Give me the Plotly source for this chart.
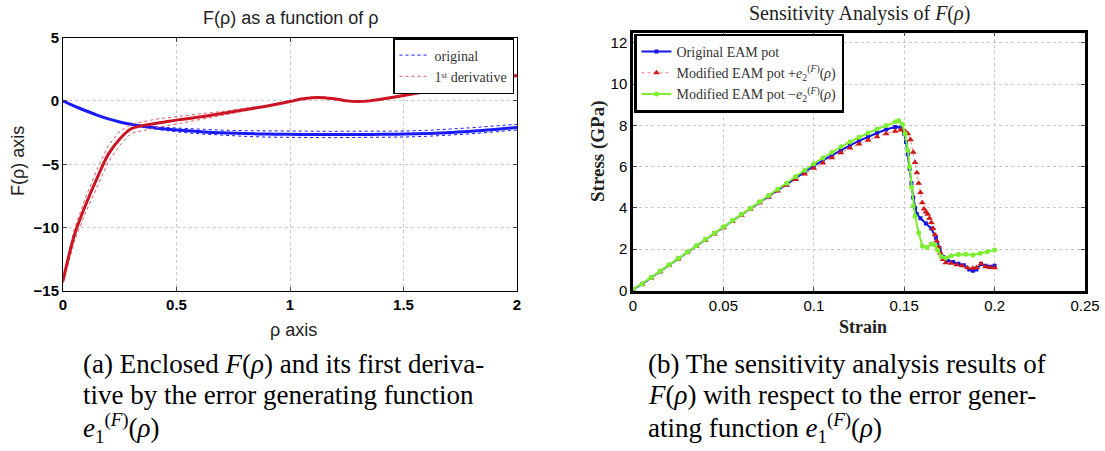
import plotly.graph_objects as go

# ---------------- Left panel data: F(rho) and its first derivative ----------------
rho = [0, 0.05, 0.1, 0.15, 0.2, 0.25, 0.3, 0.35, 0.4, 0.45, 0.5, 0.6, 0.7, 0.8, 0.9,
       1.0, 1.05, 1.1, 1.15, 1.2, 1.25, 1.3, 1.35, 1.4, 1.5, 1.6, 1.7, 1.8, 1.9, 2.0]
F_orig = [0, -0.42, -0.78, -1.12, -1.42, -1.66, -1.85, -2.0, -2.12, -2.22, -2.3, -2.42, -2.52, -2.58, -2.62,
          -2.64, -2.645, -2.65, -2.65, -2.65, -2.65, -2.65, -2.645, -2.64, -2.62, -2.58, -2.5, -2.4, -2.25, -2.1]
F_upper = [0, -0.42, -0.78, -1.12, -1.42, -1.66, -1.83, -1.95, -2.03, -2.1, -2.15, -2.24, -2.31, -2.35, -2.38,
           -2.4, -2.4, -2.4, -2.4, -2.4, -2.4, -2.4, -2.4, -2.4, -2.38, -2.33, -2.25, -2.12, -1.98, -1.85]
F_lower = [0, -0.42, -0.78, -1.12, -1.42, -1.66, -1.88, -2.05, -2.2, -2.33, -2.45, -2.6, -2.72, -2.8, -2.86,
           -2.9, -2.9, -2.9, -2.9, -2.9, -2.9, -2.89, -2.88, -2.87, -2.85, -2.8, -2.72, -2.6, -2.45, -2.3]
dF_orig = [-14.2, -10.6, -8.2, -6.1, -4.2, -3.0, -2.2, -1.95, -1.8, -1.66, -1.52, -1.28, -1.0, -0.7, -0.4,
           -0.05, 0.15, 0.25, 0.25, 0.15, 0.0, -0.05, 0.0, 0.12, 0.42, 0.75, 1.05, 1.35, 1.68, 2.0]
dF_upper = [-14.0, -10.1, -7.6, -5.4, -3.5, -2.4, -1.85, -1.65, -1.47, -1.35, -1.23, -1.03, -0.84, -0.6, -0.35,
            0.0, 0.2, 0.3, 0.3, 0.2, 0.05, 0.0, 0.05, 0.17, 0.47, 0.8, 1.1, 1.4, 1.73, 2.05]
dF_lower = [-14.4, -11.1, -8.8, -6.8, -4.8, -3.5, -2.55, -2.35, -2.15, -1.98, -1.82, -1.5, -1.15, -0.8, -0.45,
            -0.1, 0.1, 0.2, 0.2, 0.1, -0.05, -0.1, -0.05, 0.07, 0.37, 0.7, 1.0, 1.3, 1.63, 1.95]

# ---------------- Right panel data: stress-strain curves ----------------
strain_blue = [0, 0.005, 0.01, 0.015, 0.02, 0.025, 0.03, 0.035, 0.04, 0.045, 0.05, 0.055, 0.06, 0.065,
               0.07, 0.075, 0.08, 0.085, 0.09, 0.095, 0.1, 0.105, 0.11, 0.115, 0.12, 0.125, 0.13, 0.135,
               0.14, 0.145, 0.148, 0.15, 0.151, 0.152, 0.153, 0.154, 0.155, 0.156, 0.157, 0.159, 0.162,
               0.165, 0.1675, 0.1695, 0.1715, 0.174, 0.177, 0.18, 0.183, 0.186, 0.188, 0.19, 0.1925,
               0.195, 0.1975, 0.2]
stress_blue = [0.05, 0.31, 0.62, 0.93, 1.24, 1.55, 1.86, 2.16, 2.46, 2.77, 3.07, 3.37, 3.67, 3.97,
               4.27, 4.56, 4.86, 5.15, 5.45, 5.75, 6.04, 6.3, 6.55, 6.8, 7.03, 7.25, 7.45, 7.63,
               7.8, 7.92, 7.9, 7.6, 7.2, 6.6, 5.9, 5.2, 4.5, 4.0, 3.7, 3.5, 3.25,
               3.0, 2.55, 2.05, 1.62, 1.45, 1.38, 1.3, 1.22, 1.02, 0.96, 1.02, 1.28,
               1.2, 1.15, 1.2]

strain_red = [0, 0.005, 0.01, 0.015, 0.02, 0.025, 0.03, 0.035, 0.04, 0.045, 0.05, 0.055, 0.06, 0.065,
              0.07, 0.075, 0.08, 0.085, 0.09, 0.095, 0.1, 0.105, 0.11, 0.115, 0.12, 0.125, 0.13, 0.135,
              0.14, 0.145, 0.148, 0.1505, 0.152, 0.1535, 0.155, 0.156, 0.157, 0.158, 0.159, 0.16, 0.161,
              0.162, 0.163, 0.164, 0.165, 0.166, 0.167, 0.168, 0.169, 0.17, 0.1715, 0.173, 0.176, 0.179,
              0.182, 0.185, 0.188, 0.19, 0.1925, 0.195, 0.1975, 0.2]
stress_red = [0.03, 0.3, 0.6, 0.91, 1.22, 1.53, 1.84, 2.14, 2.44, 2.74, 3.04, 3.34, 3.64, 3.95,
              4.25, 4.53, 4.82, 5.1, 5.38, 5.65, 5.92, 6.18, 6.43, 6.67, 6.9, 7.1, 7.28, 7.45,
              7.6, 7.72, 7.78, 7.72, 7.6, 7.3, 6.7, 6.2, 5.7, 5.2, 4.75, 4.25, 3.95,
              3.8, 3.7, 3.5, 3.3, 3.0, 2.7, 2.4, 2.1, 1.8, 1.5, 1.35, 1.32, 1.25,
              1.2, 1.1, 1.08, 1.12, 1.3, 1.15, 1.12, 1.1]

strain_green = [0, 0.005, 0.01, 0.015, 0.02, 0.025, 0.03, 0.035, 0.04, 0.045, 0.05, 0.055, 0.06, 0.065,
                0.07, 0.075, 0.08, 0.085, 0.09, 0.095, 0.1, 0.105, 0.11, 0.115, 0.12, 0.125, 0.13, 0.135,
                0.14, 0.145, 0.147, 0.149, 0.1505, 0.152, 0.153, 0.154, 0.155, 0.156, 0.158, 0.16, 0.1625,
                0.165, 0.167, 0.1685, 0.1705, 0.173, 0.176, 0.18, 0.184, 0.188, 0.192, 0.196, 0.2]
stress_green = [0.05, 0.32, 0.63, 0.94, 1.25, 1.56, 1.87, 2.17, 2.48, 2.79, 3.09, 3.39, 3.69, 3.99,
                4.3, 4.6, 4.9, 5.2, 5.52, 5.83, 6.14, 6.42, 6.7, 6.96, 7.2, 7.43, 7.63, 7.82,
                8.0, 8.18, 8.22, 8.05, 7.6, 6.8, 6.0, 5.0, 4.1, 3.6, 2.8, 2.15, 2.08,
                2.25, 2.2, 1.95, 1.65, 1.58, 1.68, 1.74, 1.76, 1.72, 1.8, 1.88, 1.96]

left_xticks = [0, 0.5, 1, 1.5, 2]
left_yticks = [-15, -10, -5, 0, 5]
right_xticks = [0, 0.05, 0.1, 0.15, 0.2, 0.25]
right_xticklabels = ["0", "0.05", "0.1", "0.15", "0.2", "0.25"]
right_yticks = [0, 2, 4, 6, 8, 10, 12]

BLUE = "#1a1aff"
RED = "#cc1422"
SERIF = "Liberation Serif, DejaVu Serif, serif"
SANS = "Liberation Sans, Arial, sans-serif"
W, H = 1105, 451

fig = go.Figure()

# Left panel
fig.add_trace(go.Scatter(x=rho, y=F_upper, mode="lines", line=dict(color=BLUE, width=1, dash="dot"),
                         name="original", legend="legend", xaxis="x", yaxis="y"))
fig.add_trace(go.Scatter(x=rho, y=F_lower, mode="lines", line=dict(color=BLUE, width=1, dash="dot"),
                         showlegend=False, xaxis="x", yaxis="y"))
fig.add_trace(go.Scatter(x=rho, y=F_orig, mode="lines", line=dict(color=BLUE, width=3, shape="spline"),
                         showlegend=False, xaxis="x", yaxis="y"))
fig.add_trace(go.Scatter(x=rho, y=dF_upper, mode="lines", line=dict(color="#e05560", width=1, dash="dot"),
                         name="1ˢᵗ derivative", legend="legend", xaxis="x", yaxis="y"))
fig.add_trace(go.Scatter(x=rho, y=dF_lower, mode="lines", line=dict(color="#e05560", width=1, dash="dot"),
                         showlegend=False, xaxis="x", yaxis="y"))
fig.add_trace(go.Scatter(x=rho, y=dF_orig, mode="lines", line=dict(color=RED, width=3, shape="spline"),
                         showlegend=False, xaxis="x", yaxis="y"))

# Right panel
fig.add_trace(go.Scatter(x=strain_blue, y=stress_blue, mode="lines+markers",
                         line=dict(color="#1414e6", width=2),
                         marker=dict(symbol="square", size=4, color="#1414e6"),
                         name="Original EAM pot", legend="legend2", xaxis="x2", yaxis="y2"))
fig.add_trace(go.Scatter(x=strain_red, y=stress_red, mode="lines+markers",
                         line=dict(color="#f08080", width=1, dash="dot"),
                         marker=dict(symbol="triangle-up", size=6, color="#d01818"),
                         name="Modified EAM pot +<i>e</i><sub>2</sub><sup>(<i>F</i>)</sup>(<i>ρ</i>)",
                         legend="legend2", xaxis="x2", yaxis="y2"))
fig.add_trace(go.Scatter(x=strain_green, y=stress_green, mode="lines+markers",
                         line=dict(color="#7cf030", width=2),
                         marker=dict(symbol="circle", size=5, color="#7cf030"),
                         name="Modified EAM pot −<i>e</i><sub>2</sub><sup>(<i>F</i>)</sup>(<i>ρ</i>)",
                         legend="legend2", xaxis="x2", yaxis="y2"))

grid = dict(showgrid=True, gridcolor="#c8c8c8", griddash="dot", gridwidth=1, zeroline=False, automargin=False)

fig.update_layout(
    width=W, height=H, margin=dict(l=0, r=0, t=0, b=0, autoexpand=False),
    paper_bgcolor="white", plot_bgcolor="white",
    xaxis=dict(domain=[63 / W, 517 / W], range=[0, 2], tickvals=left_xticks,
               ticks="inside", ticklen=4, mirror="ticks", showline=True, linecolor="black", linewidth=1,
               tickfont=dict(family=SANS, size=15, color="black", weight="bold"), anchor="y", **grid),
    yaxis=dict(domain=[1 - 291 / H, 1 - 37.5 / H], range=[-15, 5], tickvals=left_yticks,
               ticks="inside", ticklen=4, mirror="ticks", showline=True, linecolor="black", linewidth=1,
               tickfont=dict(family=SANS, size=15, color="black", weight="bold"), anchor="x", **grid),
    xaxis2=dict(domain=[633 / W, 1085 / W], range=[0, 0.25], tickvals=right_xticks, ticktext=right_xticklabels,
                ticks="inside", ticklen=4, mirror="ticks", showline=True, linecolor="black", linewidth=2.5,
                tickfont=dict(family=SANS, size=15, color="black"), anchor="y2", **grid),
    yaxis2=dict(domain=[1 - 290.5 / H, 1 - 32.5 / H], range=[0, 12.5], tickvals=right_yticks,
                ticks="inside", ticklen=4, mirror="ticks", showline=True, linecolor="black", linewidth=2.5,
                tickfont=dict(family=SANS, size=15, color="black"), anchor="x2", **grid),
    legend=dict(x=514 / W, y=1 - 38 / H, xanchor="right", yanchor="top", bgcolor="white",
                bordercolor="black", borderwidth=1.5, font=dict(family=SERIF, size=14, color="#333"),
                itemwidth=30, tracegroupgap=0),
    legend2=dict(x=634 / W, y=1 - 33.5 / H, xanchor="left", yanchor="top", bgcolor="white",
                 bordercolor="black", borderwidth=2.5, font=dict(family=SERIF, size=14, color="#333"),
                 itemwidth=30, tracegroupgap=0),
)

ann = []


def add(text, x, y, font, **kw):
    d = dict(text=text, x=x / W, y=1 - y / H, xref="paper", yref="paper", showarrow=False,
             xanchor="center", yanchor="middle", font=font)
    d.update(kw)
    ann.append(d)


# titles
add("F(ρ) as a function of ρ", 291, 18, dict(family=SANS, size=18, color="#222"))
add("Sensitivity Analysis of <i>F</i>(<i>ρ</i>)", 859, 14, dict(family=SERIF, size=20, color="#222"))
# axis titles
add("ρ axis", 293, 330, dict(family=SANS, size=18, color="#222"))
add("F(ρ) axis", 18, 161, dict(family=SANS, size=18, color="#222"), textangle=-90)
add("<b>Strain</b>", 863, 327, dict(family=SERIF, size=18, color="#222"))
add("<b>Stress (GPa)</b>", 598, 151, dict(family=SERIF, size=19, color="#222"), textangle=-90)

# captions
cap_left = ["(a) Enclosed <i>F</i>(<i>ρ</i>) and its first deriva-",
            "tive by the error generating function",
            "<i>e</i><sub>1</sub><sup>(<i>F</i>)</sup>(<i>ρ</i>)"]
cap_right = ["(b) The sensitivity analysis results of",
             "<i>F</i>(<i>ρ</i>) with respect to the error gener-",
             "ating function <i>e</i><sub>1</sub><sup>(<i>F</i>)</sup>(<i>ρ</i>)"]
ys = [364, 395, 428]
capfont = dict(family=SERIF, size=27, color="black")
for i, t in enumerate(cap_left):
    add(t, 81, ys[i], capfont, xanchor="left")
for i, t in enumerate(cap_right):
    add(t, 646, ys[i], capfont, xanchor="left")
fig.update_layout(annotations=ann)

fig.write_html("out.html", config={"displayModeBar": False},
               post_script="document.body.style.margin='0px';")
